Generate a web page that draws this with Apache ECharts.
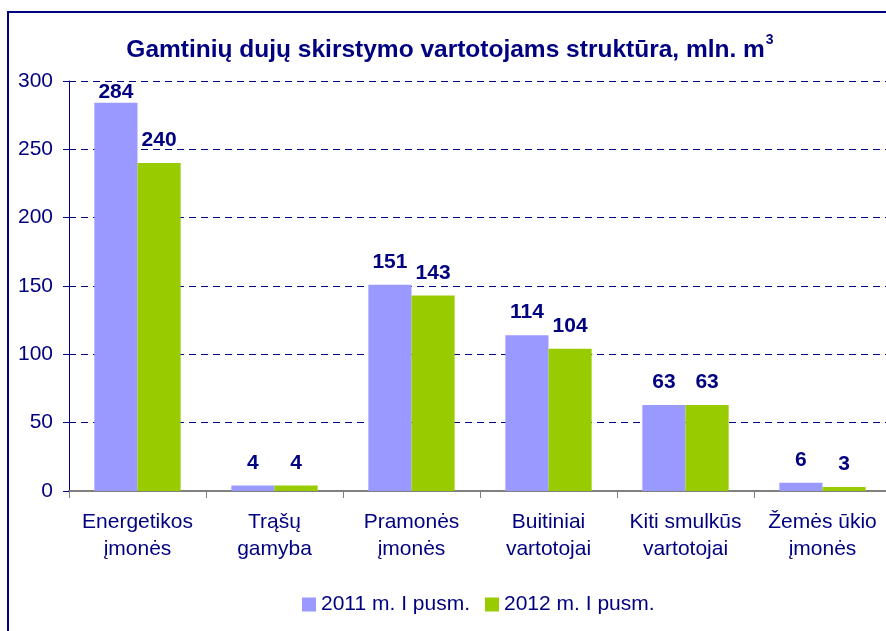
<!DOCTYPE html>
<html>
<head>
<meta charset="utf-8">
<script src="https://cdn.jsdelivr.net/npm/echarts@6/dist/echarts.min.js"></script>
<style>
    html, body { margin: 0; padding: 0; overflow: hidden; background: #fff; }
    #chart { position: absolute; left: 0; top: 0; width: 900px; height: 631px; }
    #frame {
        position: absolute; left: 7px; top: 11px; width: 1000px; height: 700px;
        border-left: 2px solid #000080; border-top: 2px solid #000080;
        pointer-events: none;
    }
</style>
</head>
<body>
<div id="chart"></div>
<div id="frame"></div>
<script>
// kategorijos ir reikšmės (mln. m3)
const categories = [
    "Energetikos\nįmonės",
    "Trąšų\ngamyba",
    "Pramonės\nįmonės",
    "Buitiniai\nvartotojai",
    "Kiti smulkūs\nvartotojai",
    "Žemės ūkio\nįmonės"
];
const seriesNames = ["2011 m. I pusm.", "2012 m. I pusm."];
const values2011 = [284, 4, 151, 114, 63, 6];
const values2012 = [240, 4, 143, 104, 63, 3];
const yTicks = [0, 50, 100, 150, 200, 250, 300];

const navy = "#000080";
const font = 'Arial, "Liberation Sans", sans-serif';

let myChart = echarts.init(document.getElementById("chart"));

function barSeries(name, values, color) {
    let top = Math.max.apply(null, yTicks);
    return {
        name: name,
        type: "bar",
        barGap: 0,
        barCategoryGap: "37%",
        itemStyle: { color: color },
        label: {
            show: true,
            position: "top",
            distance: 12,
            color: navy,
            fontFamily: font,
            fontWeight: "bold",
            fontSize: 21
        },
        // label near the top of the plot gets pushed down, like in the original
        data: values.map(v => v > top * 0.9 ? { value: v, label: { distance: 0 } } : v)
    };
}

let option = {
    backgroundColor: "#fff",
    animation: false,
    title: {
        text: "{t|Gamtinių dujų skirstymo vartotojams struktūra, mln. m}{s|3}",
        left: "center",
        top: 28,
        textStyle: {
            rich: {
                t: { fontFamily: font, fontWeight: "bold", fontSize: 24.5, color: navy, lineHeight: 30, verticalAlign: "bottom" },
                s: { fontFamily: font, fontWeight: "bold", fontSize: 14, color: navy, lineHeight: 30, verticalAlign: "top", padding: [0, 0, 0, 1] }
            }
        }
    },
    legend: {
        left: 302,
        top: 594,
        padding: 0,
        icon: "rect",
        itemWidth: 14,
        itemHeight: 14,
        itemGap: 15,
        textStyle: { fontFamily: font, fontSize: 21, color: navy },
        data: seriesNames
    },
    grid: {
        left: 69,
        right: 9,
        top: 81,
        bottom: 140
    },
    xAxis: {
        type: "category",
        data: categories,
        axisLine: { lineStyle: { color: "#808080", width: 2 } },
        axisTick: { show: true, length: 7, lineStyle: { color: "#808080", width: 1 } },
        axisLabel: {
            margin: 18,
            fontFamily: font,
            fontSize: 21,
            color: navy,
            lineHeight: 27,
            interval: 0
        }
    },
    yAxis: {
        type: "value",
        min: yTicks[0],
        max: yTicks[yTicks.length - 1],
        interval: yTicks[1] - yTicks[0],
        axisLine: { show: true, lineStyle: { color: navy, width: 1 } },
        axisTick: { show: true, length: 6, lineStyle: { color: navy } },
        axisLabel: { margin: 16, fontFamily: font, fontSize: 21, color: navy },
        splitLine: {
            show: true,
            lineStyle: { color: navy, width: 1, type: [7, 5] }
        }
    },
    series: [
        barSeries(seriesNames[0], values2011, "#9999FF"),
        barSeries(seriesNames[1], values2012, "#99CC00")
    ]
};

myChart.setOption(option);
</script>
</body>
</html>
